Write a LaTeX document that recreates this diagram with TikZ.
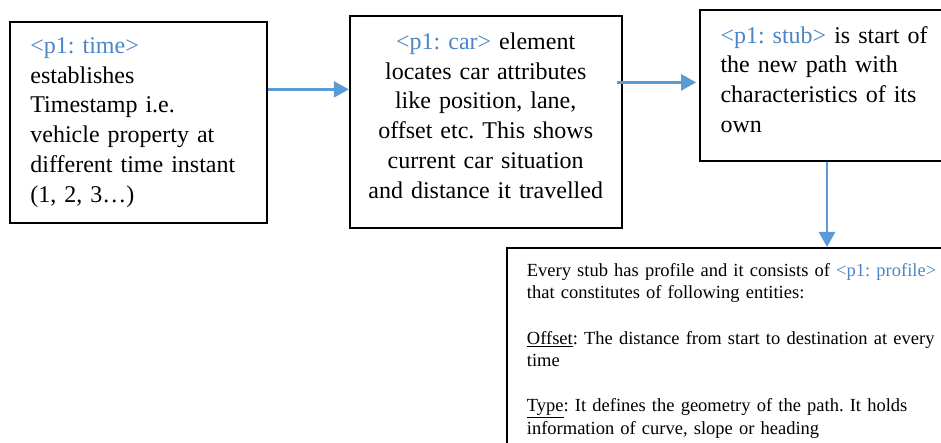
\documentclass[tikz,border=0pt]{standalone}
\usepackage{fontspec}
\setmainfont{Liberation Serif}
\usepackage{xcolor}
\usetikzlibrary{positioning,arrows.meta}
\definecolor{tagblue}{HTML}{4A86C6}
\definecolor{linkblue}{HTML}{5B9BD5}
\newcommand{\ptag}[1]{\textcolor{tagblue}{#1}}
\frenchspacing

\begin{document}
\begin{tikzpicture}[x=1pt, y=1pt,
  box/.style={draw, rectangle, line width=1.8pt, inner ysep=0pt, font=\fontsize{24}{29.8}\selectfont},
  link/.style={-{Triangle[length=15pt, width=16pt]}, line width=2.6pt, draw=linkblue, fill=linkblue}]
\clip (0,0) rectangle (941,-443);
\node[box, anchor=north west, minimum width=257pt, minimum height=201pt, text width=216pt, inner xsep=20.5pt, align=left] (time) at (9,-21) {\ptag{<p1: time>}\\ establishes\\ Timestamp i.e.\\ vehicle property at\\ different time instant\\ (1, 2, 3…)};
\node[box, minimum width=272pt, minimum height=212pt, text width=252pt, inner xsep=10pt, align=center, right=81pt of time] (car) {\ptag{<p1: car>} element\\ locates car attributes\\ like position, lane,\\ offset etc. This shows\\ current car situation\\ and distance it travelled\rule[-14pt]{0pt}{0pt}};
\node[box, minimum width=270pt, minimum height=150.5pt, text width=229pt, inner xsep=20.5pt, align=left, right=76.5pt of car, yshift=37pt] (stub) {\ptag{<p1: stub>} is start of\\ the new path with\\ characteristics of its\\ own\rule[-12pt]{0pt}{0pt}};
\node[box, anchor=north west, text width=430pt, inner xsep=20pt, inner ysep=15.4pt, align=left, font=\fontsize{18.5}{22.6}\selectfont] (profile) at (506,-247) {Every stub has profile and it consists of \ptag{<p1: profile>}\\ that constitutes of following entities:\\[22.6pt] \underline{Offset}: The distance from start to destination at every\\ time\\[22.6pt] \underline{Type}: It defines the geometry of the path. It holds\\ information of curve, slope or heading};
\coordinate (a1) at ([yshift=33pt]time.east);
\coordinate (a2) at ([xshift=-6pt, yshift=40pt]car.east);
\draw[link] (a1) -- (a1 -| car.west);
\draw[link] (a2) -- ([xshift=-3pt]a2 -| stub.west);
\draw[link] ([xshift=-8pt]stub.south) -- ([xshift=-8pt]stub.south |- profile.north);
\end{tikzpicture}
\end{document}
